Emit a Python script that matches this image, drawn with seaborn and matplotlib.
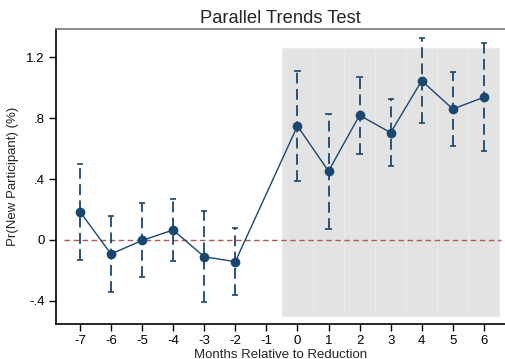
import matplotlib
matplotlib.use("Agg")
import matplotlib.pyplot as plt
import seaborn as sns
import numpy as np
import pandas as pd

months = [-7, -6, -5, -4, -3, -2, 0, 1, 2, 3, 4, 5, 6]
coef = [0.186, -0.092, -0.003, 0.066, -0.110, -0.142, 0.748, 0.452, 0.818, 0.704, 1.045, 0.859, 0.936]
ci_low = [-0.130, -0.339, -0.240, -0.140, -0.406, -0.363, 0.390, 0.072, 0.564, 0.485, 0.765, 0.616, 0.582]
ci_high = [0.500, 0.157, 0.240, 0.270, 0.188, 0.079, 1.108, 0.828, 1.071, 0.925, 1.325, 1.104, 1.290]
post_months = [0, 1, 2, 3, 4, 5, 6]
xticks = list(range(-7, 7))
yticks = [-0.4, 0, 0.4, 0.8, 1.2]
yticklabels = ["-.4", "0", ".4", ".8", "1.2"]

sns.set_theme(style="white")
plt.rcParams['font.family'] = ['Liberation Sans', 'DejaVu Sans']

navy = "#1a476f"
df = pd.DataFrame({"month": months, "coef": coef})

fig = plt.figure(figsize=(5.05, 3.59), dpi=100)
ax = fig.add_axes([56/505, 1 - 324/359, 449/505, 295/359])

# shaded post period
ax.bar(post_months, [1.26 + 0.5] * len(post_months), bottom=-0.5, width=1.0,
       color="#e3e3e3", edgecolor="#ebebeb", linewidth=0.8, zorder=0)

# reference line
ax.plot([-7.5, 6.55], [0, 0], color="#b05a5a", lw=1.0, ls=(0, (4, 2.5)), zorder=1)

# confidence intervals
ax.vlines(months, ci_low, ci_high, color=navy, lw=1.3, linestyles=(0, (6, 3)), zorder=2)
cw = 0.1
ax.hlines(ci_low, np.array(months) - cw, np.array(months) + cw, color=navy, lw=1.2, zorder=2)
ax.hlines(ci_high, np.array(months) - cw, np.array(months) + cw, color=navy, lw=1.2, zorder=2)

sns.lineplot(data=df, x="month", y="coef", ax=ax, color=navy, lw=1.0,
             marker="o", markersize=7, markeredgewidth=0, zorder=3)

ax.set_xlim(-7.77, 6.68)
ax.set_ylim(-0.551, 1.384)
ax.set_xticks(xticks)
ax.set_xticklabels([str(t) for t in xticks])
ax.set_yticks(yticks)
ax.set_yticklabels(yticklabels)
ax.tick_params(axis="both", which="major", direction="out", length=5, width=1,
               color="black", labelsize=9.5, pad=3, labelcolor="black")
ax.tick_params(axis="y", left=True)
ax.tick_params(axis="x", bottom=True)

for s in ["left", "bottom"]:
    ax.spines[s].set_color("black")
    ax.spines[s].set_linewidth(1.2)
ax.spines["right"].set_visible(False)
ax.spines["top"].set_color("#777777")
ax.spines["top"].set_linewidth(1.2)

ax.set_xlabel("Months Relative to Reduction", fontsize=9.5, labelpad=1)
ax.set_ylabel("Pr(New Participant) (%)", fontsize=9.5, labelpad=5)
ax.set_title("Parallel Trends Test", fontsize=13.2, pad=4)
ax.grid(False)

fig.savefig("out.png", dpi=100)
